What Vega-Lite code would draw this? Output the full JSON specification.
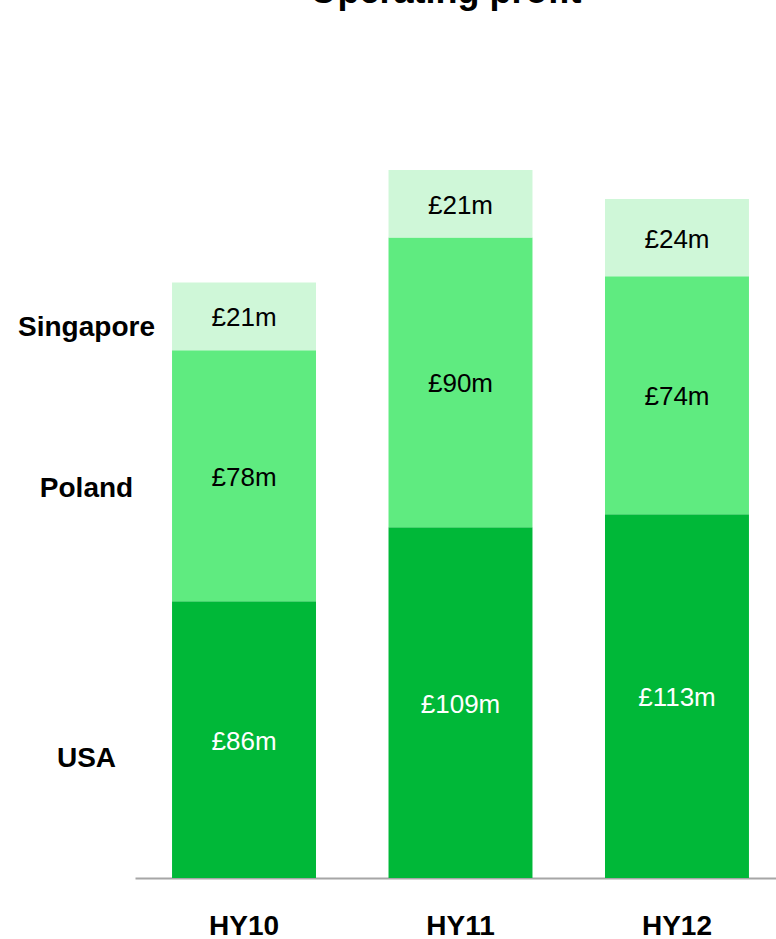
{
  "$schema": "https://vega.github.io/schema/vega-lite/v6.json",
  "width": 641,
  "height": 878,
  "autosize": {"type": "none"},
  "padding": {"left": 135, "top": 0, "right": 0, "bottom": 61},
  "background": "white",
  "config": {"font": "Liberation Sans", "view": {"stroke": null}},
  "title": {"text": "Operating profit", "fontSize": 36, "fontWeight": "bold", "color": "black", "font": "Liberation Sans", "offset": -11, "dx": -10, "anchor": "middle"},
  "data": {
    "values": [
      {"period": "HY10", "region": "USA", "value": 86},
      {"period": "HY10", "region": "Poland", "value": 78},
      {"period": "HY10", "region": "Singapore", "value": 21},
      {"period": "HY11", "region": "USA", "value": 109},
      {"period": "HY11", "region": "Poland", "value": 90},
      {"period": "HY11", "region": "Singapore", "value": 21},
      {"period": "HY12", "region": "USA", "value": 113},
      {"period": "HY12", "region": "Poland", "value": 74},
      {"period": "HY12", "region": "Singapore", "value": 24}
    ]
  },
  "transform": [
    {"calculate": "indexof(['USA','Poland','Singapore'], datum.region)", "as": "ord"},
    {"stack": "value", "groupby": ["period"], "sort": [{"field": "ord", "order": "ascending"}], "as": ["v0", "v1"]},
    {"calculate": "(datum.v0 + datum.v1) / 2", "as": "mid"},
    {"calculate": "'£' + datum.value + 'm'", "as": "label"}
  ],
  "encoding": {
    "x": {
      "field": "period", "type": "nominal", "sort": ["HY10", "HY11", "HY12"],
      "scale": {"paddingInner": 0.335, "paddingOuter": 0.148, "align": 0.578},
      "axis": {"title": null, "labelAngle": 0, "labelFontSize": 28, "labelFontWeight": "bold", "labelColor": "black", "ticks": false, "tickSize": 0, "labelPadding": 48, "labelBaseline": "middle", "domainColor": "#a6a6a6", "domainWidth": 2, "grid": false}
    }
  },
  "layer": [
    {
      "mark": {"type": "bar"},
      "encoding": {
        "y": {
          "field": "v0", "type": "quantitative",
          "scale": {"domain": [0, 272.8], "nice": false, "zero": true},
          "axis": {"title": null, "values": [37.0, 121.0, 171.0], "labelExpr": "datum.value < 80 ? 'USA' : (datum.value < 150 ? 'Poland' : 'Singapore')", "domain": false, "ticks": false, "tickSize": 0, "grid": false, "labelAlign": "center", "labelBaseline": "middle", "labelPadding": 49, "labelFontSize": 28, "labelFontWeight": "bold", "labelColor": "black", "labelOverlap": false, "labelFlush": false,
            "encode": {"labels": {"update": {"dx": [{"test": "datum.value < 80", "value": 14}, {"value": 0}]}}}}
        },
        "y2": {"field": "v1"},
        "color": {
          "field": "region", "type": "nominal",
          "scale": {"domain": ["USA", "Poland", "Singapore"], "range": ["#00B838", "#5FEB80", "#CFF7D8"]},
          "legend": null
        }
      }
    },
    {
      "mark": {"type": "text", "fontSize": 26, "baseline": "middle", "align": "center", "font": "Liberation Sans", "dy": 2},
      "encoding": {
        "y": {"field": "mid", "type": "quantitative"},
        "text": {"field": "label"},
        "color": {"condition": {"test": "datum.region === 'USA'", "value": "white"}, "value": "black"}
      }
    }
  ]
}
